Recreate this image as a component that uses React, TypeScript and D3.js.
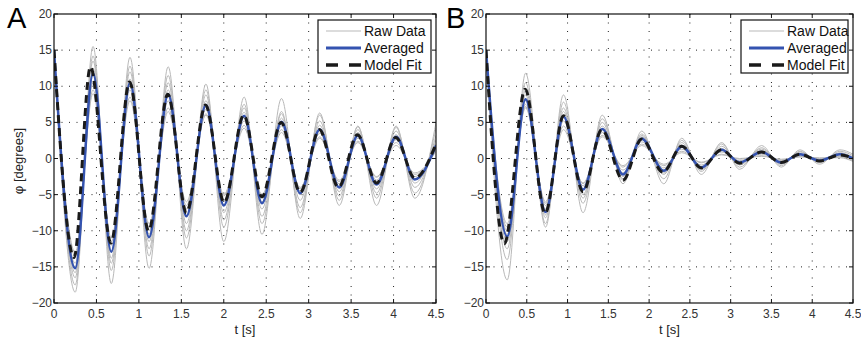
import { useEffect, useRef } from 'react';
import * as d3 from 'd3';

// axis ticks
const tTicks = [0, 0.5, 1, 1.5, 2, 2.5, 3, 3.5, 4, 4.5];
const phiTicks = [-20, -15, -10, -5, 0, 5, 10, 15, 20];

// Panel A: extrema of the oscillation (time in s, angle in degrees)
const timesA = [0, 0.25, 0.46, 0.675, 0.895, 1.12, 1.345, 1.56, 1.79, 2.0, 2.24, 2.45, 2.68, 2.9, 3.13, 3.36, 3.58, 3.8, 4.03, 4.25, 4.5];
const averagedA = [15, -15.2, 11.8, -12.9, 10.5, -10.9, 8.9, -8, 7.4, -6.5, 5.9, -6.2, 5.1, -4.8, 4.0, -4.0, 3.2, -3.6, 3.0, -2.9, 1.8];
const modelTimesA = [0, 0.236, 0.43, 0.67, 0.89, 1.115, 1.34, 1.56, 1.785, 2.005, 2.235, 2.45, 2.675, 2.9, 3.125, 3.35, 3.575, 3.8, 4.025, 4.25, 4.5];
const modelA = [15, -13.7, 12.7, -11.7, 10.6, -10.0, 8.9, -7.5, 7.4, -6.1, 6.0, -5.3, 5.0, -4.7, 4.0, -4.0, 3.3, -3.4, 2.9, -2.7, 2.0];
const rawA = [
  [14.8, -18.5, 15.5, -17.3, 14, -15.2, 12.7, -12.5, 10.3, -11.5, 8.5, -10.5, 8.3, -8.3, 6.3, -6.5, 4.5, -6.5, 4.5, -5.5, 5],
  [15, -17.5, 14.2, -15.5, 12.8, -13.5, 11.5, -11, 9.5, -9.5, 7.5, -9, 6.5, -7.5, 6, -5.8, 4.4, -5.5, 4.3, -4.8, 4.2],
  [15.2, -16.5, 13.5, -14.5, 12, -12.5, 10.5, -10, 8.8, -8.5, 7, -8, 6.2, -6.8, 5.2, -5.2, 4, -4.8, 3.8, -4, 3.2],
  [14.5, -15.8, 12.5, -13.8, 11, -11.5, 9.5, -9, 8, -7.5, 6.4, -7, 5.6, -5.8, 4.6, -4.6, 3.6, -4.2, 3.3, -3.4, 2.6],
  [14.9, -15, 11.5, -13, 10.2, -10.5, 8.6, -8, 7.2, -6.5, 5.8, -6, 5, -5, 4, -4, 3.2, -3.6, 3, -2.8, 2],
  [14.6, -14.5, 10.5, -12, 9.5, -10, 8, -7, 6.8, -5.8, 5.2, -5.5, 4.5, -4.5, 3.5, -3.5, 2.8, -3, 2.6, -2.5, 1.6],
  [15.1, -13.5, 9.5, -11.5, 8.5, -9.5, 7, -6.5, 6.2, -5.2, 4.6, -5.2, 4, -4.2, 3, -3.2, 2.4, -2.6, 2.2, -2.2, 1.2],
  [14.7, -13, 9, -11, 8, -9, 6.5, -6, 6, -5, 4.2, -5, 3.6, -4, 2.8, -3, 2.2, -2.5, 1.8, -2, 1],
];

// Panel B
const timesB = [0, 0.26, 0.485, 0.73, 0.95, 1.19, 1.425, 1.68, 1.91, 2.18, 2.4, 2.64, 2.89, 3.11, 3.38, 3.62, 3.85, 4.09, 4.34, 4.5];
const averagedB = [15, -10.8, 8.2, -7.4, 5.8, -4.3, 4.1, -2.2, 2.75, -1.7, 1.65, -1.25, 1.2, -0.55, 0.9, -0.55, 0.6, -0.3, 0.6, 0];
const modelTimesB = [0, 0.225, 0.48, 0.725, 0.95, 1.19, 1.42, 1.68, 1.91, 2.17, 2.4, 2.64, 2.89, 3.11, 3.38, 3.62, 3.85, 4.09, 4.34, 4.5];
const modelB = [15, -11.8, 9.6, -7.6, 5.9, -4.6, 4.0, -3.0, 2.7, -1.9, 1.7, -1.3, 1.2, -0.65, 0.9, -0.55, 0.6, -0.35, 0.5, 0.05];
const rawB = [
  [14.8, -16.8, 11.8, -9.5, 8.8, -7.5, 6, -3.5, 3.8, -3.5, 2.8, -2.2, 2.2, -1.5, 1.8, -1.2, 1.2, -0.8, 1.2, 0.6],
  [15, -14, 10.5, -9, 7.8, -6.2, 5.5, -3, 3.4, -2.8, 2.5, -1.8, 2, -1.2, 1.5, -1, 1, -0.6, 1, 0.4],
  [15.2, -12.5, 9.5, -8.2, 7, -5.5, 5, -2.8, 3.2, -2.2, 2.2, -1.6, 1.7, -0.9, 1.3, -0.8, 0.9, -0.5, 0.8, 0.2],
  [14.6, -11.5, 8.8, -7.8, 6.5, -5, 4.5, -2.5, 3, -2, 1.9, -1.4, 1.4, -0.7, 1.1, -0.7, 0.7, -0.4, 0.7, 0],
  [14.9, -10.5, 8, -7, 5.8, -4.2, 4, -2, 2.6, -1.6, 1.6, -1.1, 1.1, -0.5, 0.8, -0.5, 0.5, -0.2, 0.5, -0.1],
  [14.5, -10, 7.5, -6.5, 5.2, -3.8, 3.6, -1.6, 2.3, -1.3, 1.3, -0.9, 0.9, -0.3, 0.6, -0.3, 0.4, -0.1, 0.3, -0.2],
  [15.1, -9.5, 7.2, -6.2, 4.5, -3.5, 3.2, -1.2, 2, -1, 1, -0.6, 0.6, -0.1, 0.4, -0.2, 0.3, 0, 0.2, -0.3],
  [14.7, -9, 7, -6, 4, -3.4, 3, -1, 1.8, -0.8, 0.8, -0.5, 0.5, 0, 0.3, -0.1, 0.2, 0.1, 0.1, -0.4],
];

const legendItems = ['Raw Data', 'Averaged', 'Model Fit'];

const FONT = '"Liberation Sans", Arial, Helvetica, sans-serif';
const BLUE = '#3453b0';
const GREY = '#b9b9b9';

const minus = (v: number) => (v < 0 ? '\u2212' + Math.abs(v) : String(v));

export default function App() {
  const svgRef = useRef<SVGSVGElement>(null);

  useEffect(() => {
    const svg = d3.select(svgRef.current);
    svg.selectAll('*').remove();

    const panels = [
      { id: 'A', letterX: 7, left: 54, right: 436, legendW: 113, times: timesA, avg: averagedA, mTimes: modelTimesA, model: modelA, raw: rawA, ylabel: true },
      { id: 'B', letterX: 446, left: 486, right: 853, legendW: 107, times: timesB, avg: averagedB, mTimes: modelTimesB, model: modelB, raw: rawB, ylabel: false },
    ];
    const top = 14;
    const bottom = 303;

    panels.forEach(p => {
      const x = d3.scaleLinear().domain([0, 4.5]).range([p.left, p.right]);
      const y = d3.scaleLinear().domain([-20, 20]).range([bottom, top]);
      const g = svg.append('g');

      // clip
      svg.append('clipPath').attr('id', `clip${p.id}`)
        .append('rect').attr('x', p.left).attr('y', top)
        .attr('width', p.right - p.left).attr('height', bottom - top);

      // grid (dotted)
      g.selectAll('.vgrid').data(tTicks.slice(1, -1)).enter().append('line')
        .attr('x1', d => x(d)).attr('x2', d => x(d))
        .attr('y1', top).attr('y2', bottom)
        .attr('stroke', '#222').attr('stroke-width', 1)
        .attr('stroke-dasharray', '1,7.5');
      g.selectAll('.hgrid').data(phiTicks.slice(1, -1)).enter().append('line')
        .attr('x1', p.left).attr('x2', p.right)
        .attr('y1', d => y(d)).attr('y2', d => y(d))
        .attr('stroke', '#222').attr('stroke-width', 1)
        .attr('stroke-dasharray', '1,6.5');

      const line = d3.line<[number, number]>()
        .x(d => x(d[0])).y(d => y(d[1]))
        .curve(d3.curveMonotoneX);

      const lines = g.append('g').attr('clip-path', `url(#clip${p.id})`);
      p.raw.forEach(r => {
        lines.append('path')
          .datum(p.times.map((t, i) => [t, r[i]] as [number, number]))
          .attr('fill', 'none').attr('stroke', GREY).attr('stroke-width', 1)
          .attr('d', line);
      });
      lines.append('path')
        .datum(p.times.map((t, i) => [t, p.avg[i]] as [number, number]))
        .attr('fill', 'none').attr('stroke', BLUE).attr('stroke-width', 2.5)
        .attr('d', line);
      lines.append('path')
        .datum(p.mTimes.map((t, i) => [t, p.model[i]] as [number, number]))
        .attr('fill', 'none').attr('stroke', '#1a1a1a').attr('stroke-width', 3)
        .attr('stroke-dasharray', '8,5')
        .attr('d', line);

      // frame
      g.append('rect')
        .attr('x', p.left).attr('y', top)
        .attr('width', p.right - p.left).attr('height', bottom - top)
        .attr('fill', 'none').attr('stroke', '#111').attr('stroke-width', 1.2);

      // inner ticks
      const tl = 4;
      tTicks.forEach(t => {
        g.append('line').attr('x1', x(t)).attr('x2', x(t)).attr('y1', bottom).attr('y2', bottom - tl).attr('stroke', '#111');
        g.append('line').attr('x1', x(t)).attr('x2', x(t)).attr('y1', top).attr('y2', top + tl).attr('stroke', '#111');
      });
      phiTicks.forEach(v => {
        g.append('line').attr('x1', p.left).attr('x2', p.left + tl).attr('y1', y(v)).attr('y2', y(v)).attr('stroke', '#111');
        g.append('line').attr('x1', p.right).attr('x2', p.right - tl).attr('y1', y(v)).attr('y2', y(v)).attr('stroke', '#111');
      });

      // tick labels
      g.selectAll('.xl').data(tTicks).enter().append('text')
        .attr('x', d => x(d)).attr('y', bottom + 15)
        .attr('text-anchor', 'middle').attr('font-family', FONT)
        .attr('font-size', 12).attr('fill', '#333')
        .text(d => String(d));
      g.selectAll('.yl').data(phiTicks).enter().append('text')
        .attr('x', p.left - 2).attr('y', d => y(d) + 4)
        .attr('text-anchor', 'end').attr('font-family', FONT)
        .attr('font-size', 12).attr('fill', '#333')
        .text(d => minus(d));

      // axis titles
      g.append('text')
        .attr('x', (p.left + p.right) / 2).attr('y', bottom + 31)
        .attr('text-anchor', 'middle').attr('font-family', FONT)
        .attr('font-size', 13).attr('fill', '#222')
        .text('t [s]');
      if (p.ylabel) {
        g.append('text')
          .attr('transform', `translate(${23},${161}) rotate(-90)`)
          .attr('text-anchor', 'middle').attr('font-family', FONT)
          .attr('font-size', 13).attr('fill', '#222')
          .text('φ [degrees]');
      }

      // panel letter
      g.append('text')
        .attr('x', p.letterX).attr('y', 28)
        .attr('font-family', FONT).attr('font-size', 29).attr('fill', '#000')
        .text(p.id);

      // legend
      const lx = p.right - 5 - p.legendW;
      const ly = 20;
      const leg = g.append('g');
      leg.append('rect').attr('x', lx).attr('y', ly)
        .attr('width', p.legendW).attr('height', 53)
        .attr('fill', '#fff').attr('stroke', '#111').attr('stroke-width', 1.2);
      legendItems.forEach((name, i) => {
        const ry = ly + 11 + i * 17;
        const ln = leg.append('line')
          .attr('x1', lx + 8).attr('x2', lx + 43)
          .attr('y1', ry).attr('y2', ry);
        if (i === 0) ln.attr('stroke', GREY).attr('stroke-width', 1);
        if (i === 1) ln.attr('stroke', BLUE).attr('stroke-width', 3);
        if (i === 2) ln.attr('stroke', '#1a1a1a').attr('stroke-width', 3.5).attr('stroke-dasharray', '12,11');
        leg.append('text')
          .attr('x', lx + 46).attr('y', ry + 5)
          .attr('font-family', FONT).attr('font-size', 14).attr('fill', '#111')
          .text(name);
      });
    });
  }, []);

  return (
    <svg ref={svgRef} width={861} height={340}
      style={{ position: 'absolute', left: 0, top: 0, background: '#fff' }} />
  );
}
